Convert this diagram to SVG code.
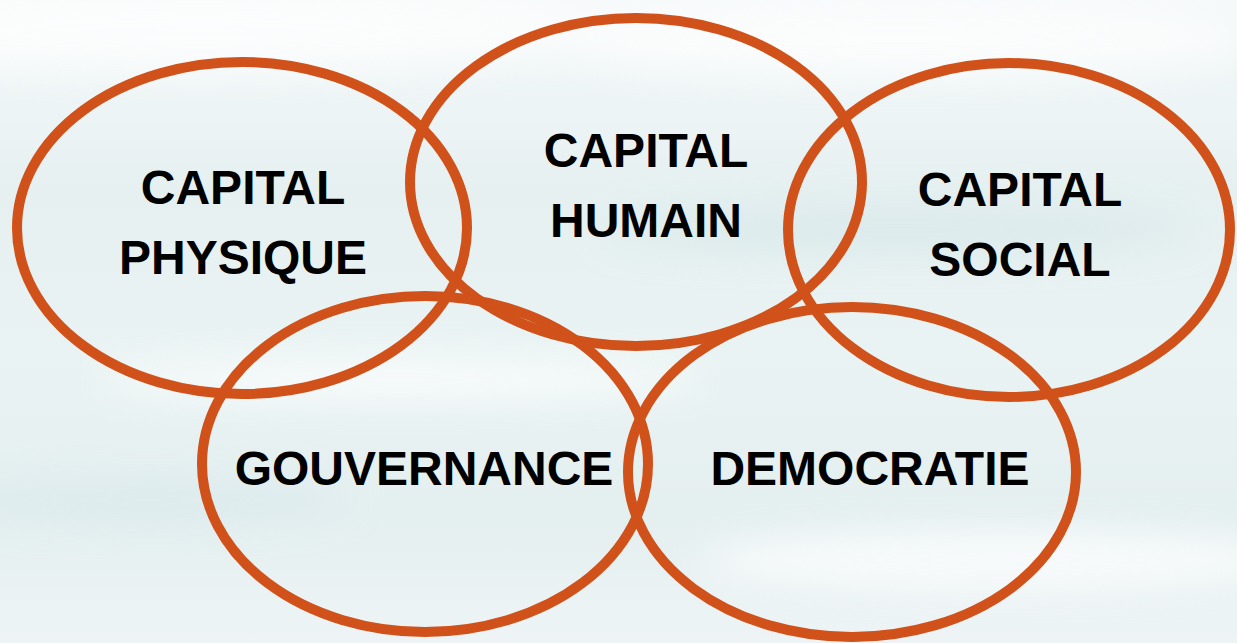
<svg xmlns="http://www.w3.org/2000/svg" width="1237" height="643" viewBox="0 0 1237 643">
<defs>
<linearGradient id="bg" x1="0" y1="0" x2="0" y2="1">
<stop offset="0" stop-color="#f6f9fa"/>
<stop offset="0.3" stop-color="#e6f0f1"/>
<stop offset="0.55" stop-color="#eaf3f3"/>
<stop offset="0.8" stop-color="#e4eff0"/>
<stop offset="1" stop-color="#eef4f5"/>
</linearGradient>
<filter id="blur" x="-20%" y="-50%" width="140%" height="200%"><feGaussianBlur stdDeviation="18"/></filter>
<style>
.ring{fill:none;stroke:#D0521A;stroke-width:10}
.lbl{font-family:"Liberation Sans",Arial,sans-serif;font-weight:bold;font-size:48px;fill:#000;text-anchor:middle}
</style>
</defs>
<rect width="1237" height="643" fill="url(#bg)"/>
<g filter="url(#blur)" opacity="0.7">
<ellipse cx="200" cy="30" rx="400" ry="40" fill="#ffffff"/>
<ellipse cx="900" cy="40" rx="350" ry="35" fill="#ffffff"/>
<ellipse cx="1000" cy="560" rx="300" ry="30" fill="#ffffff"/>
<ellipse cx="400" cy="380" rx="300" ry="20" fill="#ffffff"/>
<ellipse cx="150" cy="500" rx="200" ry="25" fill="#dbeaec"/>
<ellipse cx="900" cy="230" rx="300" ry="25" fill="#d8e8e9"/>
</g>
<g id="node-physique">
<ellipse class="ring" cx="242" cy="228" rx="225" ry="166"/>
<text class="lbl" x="243" y="204">CAPITAL</text>
<text class="lbl" x="243" y="274">PHYSIQUE</text>
</g>
<g id="node-humain">
<ellipse class="ring" cx="636" cy="182" rx="226" ry="164"/>
<text class="lbl" x="646" y="167">CAPITAL</text>
<text class="lbl" x="646" y="237">HUMAIN</text>
</g>
<g id="node-social">
<ellipse class="ring" cx="1009" cy="230" rx="221" ry="167"/>
<text class="lbl" x="1020" y="206">CAPITAL</text>
<text class="lbl" x="1020" y="276">SOCIAL</text>
</g>
<g id="node-gouvernance">
<ellipse class="ring" cx="425" cy="464" rx="223" ry="168"/>
<text class="lbl" x="424" y="485">GOUVERNANCE</text>
</g>
<g id="node-democratie">
<ellipse class="ring" cx="852" cy="472" rx="224" ry="165"/>
<text class="lbl" x="870" y="485">DEMOCRATIE</text>
</g>
<g id="connectors"/>
</svg>
